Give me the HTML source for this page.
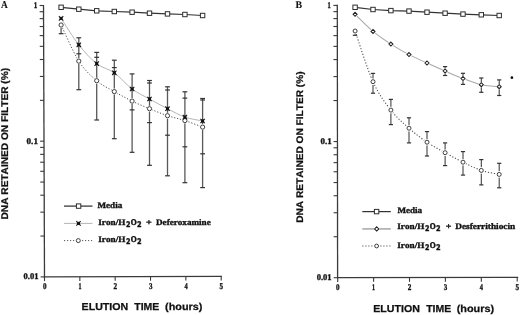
<!DOCTYPE html>
<html><head><meta charset="utf-8"><style>
html,body{margin:0;padding:0;background:#fff;}
body{width:520px;height:315px;overflow:hidden;}
svg{display:block;filter:blur(0.3px);}
text{font-kerning:none;text-rendering:geometricPrecision;}
</style></head><body>
<svg width="520" height="315" viewBox="0 0 520 315">
<rect width="520" height="315" fill="#fff"/>
<line x1="43.5" y1="4.9" x2="44.5" y2="277.5" stroke="#3a3a3a" stroke-width="1.3"/>
<line x1="39.6" y1="5.5" x2="43.5" y2="5.5" stroke="#3a3a3a" stroke-width="1.1"/>
<line x1="39.62" y1="11.71" x2="43.52" y2="11.71" stroke="#3a3a3a" stroke-width="1.1"/>
<line x1="39.65" y1="18.65" x2="43.55" y2="18.65" stroke="#3a3a3a" stroke-width="1.1"/>
<line x1="39.68" y1="26.52" x2="43.58" y2="26.52" stroke="#3a3a3a" stroke-width="1.1"/>
<line x1="39.71" y1="35.6" x2="43.61" y2="35.6" stroke="#3a3a3a" stroke-width="1.1"/>
<line x1="39.75" y1="46.35" x2="43.65" y2="46.35" stroke="#3a3a3a" stroke-width="1.1"/>
<line x1="39.8" y1="59.5" x2="43.7" y2="59.5" stroke="#3a3a3a" stroke-width="1.1"/>
<line x1="39.86" y1="76.45" x2="43.76" y2="76.45" stroke="#3a3a3a" stroke-width="1.1"/>
<line x1="39.95" y1="100.35" x2="43.85" y2="100.35" stroke="#3a3a3a" stroke-width="1.1"/>
<line x1="40.1" y1="141.2" x2="44" y2="141.2" stroke="#3a3a3a" stroke-width="1.1"/>
<line x1="40.12" y1="147.41" x2="44.02" y2="147.41" stroke="#3a3a3a" stroke-width="1.1"/>
<line x1="40.15" y1="154.35" x2="44.05" y2="154.35" stroke="#3a3a3a" stroke-width="1.1"/>
<line x1="40.18" y1="162.22" x2="44.08" y2="162.22" stroke="#3a3a3a" stroke-width="1.1"/>
<line x1="40.21" y1="171.3" x2="44.11" y2="171.3" stroke="#3a3a3a" stroke-width="1.1"/>
<line x1="40.25" y1="182.05" x2="44.15" y2="182.05" stroke="#3a3a3a" stroke-width="1.1"/>
<line x1="40.3" y1="195.2" x2="44.2" y2="195.2" stroke="#3a3a3a" stroke-width="1.1"/>
<line x1="40.36" y1="212.15" x2="44.26" y2="212.15" stroke="#3a3a3a" stroke-width="1.1"/>
<line x1="40.45" y1="236.05" x2="44.35" y2="236.05" stroke="#3a3a3a" stroke-width="1.1"/>
<line x1="40.6" y1="276.9" x2="44.5" y2="276.9" stroke="#3a3a3a" stroke-width="1.1"/>
<line x1="43.9" y1="276.9" x2="221.9" y2="276.3" stroke="#3a3a3a" stroke-width="1.3"/>
<line x1="44.5" y1="276.9" x2="44.5" y2="281.1" stroke="#3a3a3a" stroke-width="1.1"/>
<line x1="79.84" y1="276.78" x2="79.84" y2="280.98" stroke="#3a3a3a" stroke-width="1.1"/>
<line x1="115.18" y1="276.66" x2="115.18" y2="280.86" stroke="#3a3a3a" stroke-width="1.1"/>
<line x1="150.52" y1="276.54" x2="150.52" y2="280.74" stroke="#3a3a3a" stroke-width="1.1"/>
<line x1="185.86" y1="276.42" x2="185.86" y2="280.62" stroke="#3a3a3a" stroke-width="1.1"/>
<line x1="221.2" y1="276.3" x2="221.2" y2="280.5" stroke="#3a3a3a" stroke-width="1.1"/>
<line x1="61.1" y1="25" x2="61.1" y2="33.7" stroke="#585858" stroke-width="1.3"/>
<line x1="58.7" y1="33.7" x2="63.5" y2="33.7" stroke="#333" stroke-width="1.2"/>
<line x1="78.8" y1="37.8" x2="78.8" y2="89.7" stroke="#585858" stroke-width="1.3"/>
<line x1="76.4" y1="37.8" x2="81.2" y2="37.8" stroke="#333" stroke-width="1.2"/>
<line x1="76.4" y1="53.8" x2="81.2" y2="53.8" stroke="#333" stroke-width="1.2"/>
<line x1="76.4" y1="89.7" x2="81.2" y2="89.7" stroke="#333" stroke-width="1.2"/>
<line x1="96.7" y1="52.4" x2="96.7" y2="120" stroke="#585858" stroke-width="1.3"/>
<line x1="94.3" y1="52.4" x2="99.1" y2="52.4" stroke="#333" stroke-width="1.2"/>
<line x1="94.3" y1="57.3" x2="99.1" y2="57.3" stroke="#333" stroke-width="1.2"/>
<line x1="94.3" y1="120" x2="99.1" y2="120" stroke="#333" stroke-width="1.2"/>
<line x1="114.3" y1="60.2" x2="114.3" y2="138.7" stroke="#585858" stroke-width="1.3"/>
<line x1="111.9" y1="60.2" x2="116.7" y2="60.2" stroke="#333" stroke-width="1.2"/>
<line x1="111.9" y1="67.6" x2="116.7" y2="67.6" stroke="#333" stroke-width="1.2"/>
<line x1="111.9" y1="138.7" x2="116.7" y2="138.7" stroke="#333" stroke-width="1.2"/>
<line x1="132.1" y1="73.9" x2="132.1" y2="152.3" stroke="#585858" stroke-width="1.3"/>
<line x1="129.7" y1="73.9" x2="134.5" y2="73.9" stroke="#333" stroke-width="1.2"/>
<line x1="129.7" y1="109.9" x2="134.5" y2="109.9" stroke="#333" stroke-width="1.2"/>
<line x1="129.7" y1="152.3" x2="134.5" y2="152.3" stroke="#333" stroke-width="1.2"/>
<line x1="149.5" y1="80.5" x2="149.5" y2="165.3" stroke="#585858" stroke-width="1.3"/>
<line x1="147.1" y1="80.5" x2="151.9" y2="80.5" stroke="#333" stroke-width="1.2"/>
<line x1="147.1" y1="83" x2="151.9" y2="83" stroke="#333" stroke-width="1.2"/>
<line x1="147.1" y1="122.6" x2="151.9" y2="122.6" stroke="#333" stroke-width="1.2"/>
<line x1="147.1" y1="165.3" x2="151.9" y2="165.3" stroke="#333" stroke-width="1.2"/>
<line x1="167.5" y1="86.8" x2="167.5" y2="175.8" stroke="#585858" stroke-width="1.3"/>
<line x1="165.1" y1="86.8" x2="169.9" y2="86.8" stroke="#333" stroke-width="1.2"/>
<line x1="165.1" y1="90" x2="169.9" y2="90" stroke="#333" stroke-width="1.2"/>
<line x1="165.1" y1="135.2" x2="169.9" y2="135.2" stroke="#333" stroke-width="1.2"/>
<line x1="165.1" y1="175.8" x2="169.9" y2="175.8" stroke="#333" stroke-width="1.2"/>
<line x1="184.9" y1="91.8" x2="184.9" y2="182.7" stroke="#585858" stroke-width="1.3"/>
<line x1="182.5" y1="91.8" x2="187.3" y2="91.8" stroke="#333" stroke-width="1.2"/>
<line x1="182.5" y1="98.1" x2="187.3" y2="98.1" stroke="#333" stroke-width="1.2"/>
<line x1="182.5" y1="146.8" x2="187.3" y2="146.8" stroke="#333" stroke-width="1.2"/>
<line x1="182.5" y1="182.7" x2="187.3" y2="182.7" stroke="#333" stroke-width="1.2"/>
<line x1="202.6" y1="98.5" x2="202.6" y2="187.6" stroke="#585858" stroke-width="1.3"/>
<line x1="200.2" y1="98.5" x2="205" y2="98.5" stroke="#333" stroke-width="1.2"/>
<line x1="200.2" y1="100" x2="205" y2="100" stroke="#333" stroke-width="1.2"/>
<line x1="200.2" y1="153.8" x2="205" y2="153.8" stroke="#333" stroke-width="1.2"/>
<line x1="200.2" y1="187.6" x2="205" y2="187.6" stroke="#333" stroke-width="1.2"/>
<path d="M61.1 7.3 L78.8 9.2 L96.7 10.8 L114.3 11.5 L132.1 12.2 L149.5 13.2 L167.5 13.9 L184.9 14.5 L202.6 15.5" fill="none" stroke="#333" stroke-width="1.25"/>
<path d="M61.1 18.4 C64.05 22.8 72.87 37.27 78.8 44.8 C84.73 52.33 90.78 58.93 96.7 63.6 C102.62 68.27 108.4 68.57 114.3 72.8 C120.2 77.03 126.23 84.63 132.1 89 C137.97 93.37 143.6 95.72 149.5 99 C155.4 102.28 161.6 105.68 167.5 108.7 C173.4 111.72 179.05 115.05 184.9 117.1 C190.75 119.15 199.65 120.35 202.6 121" fill="none" stroke="#b0b0b0" stroke-width="0.95"/>
<path d="M61.1 25 C64.05 31.02 72.87 51.82 78.8 61.1 C84.73 70.38 90.78 75.62 96.7 80.7 C102.62 85.78 108.4 88.2 114.3 91.6 C120.2 95 126.23 98.25 132.1 101.1 C137.97 103.95 143.6 106.27 149.5 108.7 C155.4 111.13 161.6 113.72 167.5 115.7 C173.4 117.68 179.05 118.7 184.9 120.6 C190.75 122.5 199.65 126.02 202.6 127.1" fill="none" stroke="#505050" stroke-width="1.0" stroke-dasharray="1.2 1.8"/>
<rect x="58.9" y="5.1" width="4.4" height="4.4" fill="#fff" stroke="#2e2e2e" stroke-width="1.0"/>
<rect x="76.6" y="7" width="4.4" height="4.4" fill="#fff" stroke="#2e2e2e" stroke-width="1.0"/>
<rect x="94.5" y="8.6" width="4.4" height="4.4" fill="#fff" stroke="#2e2e2e" stroke-width="1.0"/>
<rect x="112.1" y="9.3" width="4.4" height="4.4" fill="#fff" stroke="#2e2e2e" stroke-width="1.0"/>
<rect x="129.9" y="10" width="4.4" height="4.4" fill="#fff" stroke="#2e2e2e" stroke-width="1.0"/>
<rect x="147.3" y="11" width="4.4" height="4.4" fill="#fff" stroke="#2e2e2e" stroke-width="1.0"/>
<rect x="165.3" y="11.7" width="4.4" height="4.4" fill="#fff" stroke="#2e2e2e" stroke-width="1.0"/>
<rect x="182.7" y="12.3" width="4.4" height="4.4" fill="#fff" stroke="#2e2e2e" stroke-width="1.0"/>
<rect x="200.4" y="13.3" width="4.4" height="4.4" fill="#fff" stroke="#2e2e2e" stroke-width="1.0"/>
<circle cx="61.1" cy="25" r="3" fill="#fff"/>
<circle cx="61.1" cy="25" r="2.1" fill="#fff" stroke="#2a2a2a" stroke-width="0.9"/>
<circle cx="78.8" cy="61.1" r="3" fill="#fff"/>
<circle cx="78.8" cy="61.1" r="2.1" fill="#fff" stroke="#2a2a2a" stroke-width="0.9"/>
<circle cx="96.7" cy="80.7" r="3" fill="#fff"/>
<circle cx="96.7" cy="80.7" r="2.1" fill="#fff" stroke="#2a2a2a" stroke-width="0.9"/>
<circle cx="114.3" cy="91.6" r="3" fill="#fff"/>
<circle cx="114.3" cy="91.6" r="2.1" fill="#fff" stroke="#2a2a2a" stroke-width="0.9"/>
<circle cx="132.1" cy="101.1" r="3" fill="#fff"/>
<circle cx="132.1" cy="101.1" r="2.1" fill="#fff" stroke="#2a2a2a" stroke-width="0.9"/>
<circle cx="149.5" cy="108.7" r="3" fill="#fff"/>
<circle cx="149.5" cy="108.7" r="2.1" fill="#fff" stroke="#2a2a2a" stroke-width="0.9"/>
<circle cx="167.5" cy="115.7" r="3" fill="#fff"/>
<circle cx="167.5" cy="115.7" r="2.1" fill="#fff" stroke="#2a2a2a" stroke-width="0.9"/>
<circle cx="184.9" cy="120.6" r="3" fill="#fff"/>
<circle cx="184.9" cy="120.6" r="2.1" fill="#fff" stroke="#2a2a2a" stroke-width="0.9"/>
<circle cx="202.6" cy="127.1" r="3" fill="#fff"/>
<circle cx="202.6" cy="127.1" r="2.1" fill="#fff" stroke="#2a2a2a" stroke-width="0.9"/>
<path d="M58.9 16.2L63.3 20.6M63.3 16.2L58.9 20.6" fill="none" stroke="#1a1a1a" stroke-width="1.1"/>
<rect x="59.6" y="16.9" width="3.0" height="3.0" fill="#111"/>
<path d="M76.6 42.6L81 47M81 42.6L76.6 47" fill="none" stroke="#1a1a1a" stroke-width="1.1"/>
<rect x="77.3" y="43.3" width="3.0" height="3.0" fill="#111"/>
<path d="M94.5 61.4L98.9 65.8M98.9 61.4L94.5 65.8" fill="none" stroke="#1a1a1a" stroke-width="1.1"/>
<rect x="95.2" y="62.1" width="3.0" height="3.0" fill="#111"/>
<path d="M112.1 70.6L116.5 75M116.5 70.6L112.1 75" fill="none" stroke="#1a1a1a" stroke-width="1.1"/>
<rect x="112.8" y="71.3" width="3.0" height="3.0" fill="#111"/>
<path d="M129.9 86.8L134.3 91.2M134.3 86.8L129.9 91.2" fill="none" stroke="#1a1a1a" stroke-width="1.1"/>
<rect x="130.6" y="87.5" width="3.0" height="3.0" fill="#111"/>
<path d="M147.3 96.8L151.7 101.2M151.7 96.8L147.3 101.2" fill="none" stroke="#1a1a1a" stroke-width="1.1"/>
<rect x="148" y="97.5" width="3.0" height="3.0" fill="#111"/>
<path d="M165.3 106.5L169.7 110.9M169.7 106.5L165.3 110.9" fill="none" stroke="#1a1a1a" stroke-width="1.1"/>
<rect x="166" y="107.2" width="3.0" height="3.0" fill="#111"/>
<path d="M182.7 114.9L187.1 119.3M187.1 114.9L182.7 119.3" fill="none" stroke="#1a1a1a" stroke-width="1.1"/>
<rect x="183.4" y="115.6" width="3.0" height="3.0" fill="#111"/>
<path d="M200.4 118.8L204.8 123.2M204.8 118.8L200.4 123.2" fill="none" stroke="#1a1a1a" stroke-width="1.1"/>
<rect x="201.1" y="119.5" width="3.0" height="3.0" fill="#111"/>
<path d="M64 206.1 L92.5 206.1" fill="none" stroke="#333" stroke-width="1.25"/>
<rect x="76.4" y="203.9" width="4.4" height="4.4" fill="#fff" stroke="#2e2e2e" stroke-width="1.0"/>
<path d="M64 223.4 L92.5 223.4" fill="none" stroke="#b0b0b0" stroke-width="0.95"/>
<path d="M76.3 221.2L80.7 225.6M80.7 221.2L76.3 225.6" fill="none" stroke="#1a1a1a" stroke-width="1.1"/>
<rect x="77" y="221.9" width="3.0" height="3.0" fill="#111"/>
<path d="M64 240.6 L92.7 240.6" fill="none" stroke="#555" stroke-width="1.0" stroke-dasharray="1.2 1.8"/>
<circle cx="78.3" cy="240.6" r="2.9" fill="#fff"/>
<circle cx="78.3" cy="240.6" r="2" fill="#fff" stroke="#2a2a2a" stroke-width="0.9"/>
<text x="97.44" y="207.9" textLength="24.79" lengthAdjust="spacingAndGlyphs" style="font-family:'Liberation Serif',serif;font-weight:bold;font-size:8.55px;fill:#111;stroke:#111;stroke-width:0.35px">Media</text>
<text x="98.29" y="224.8" textLength="27.06" lengthAdjust="spacingAndGlyphs" style="font-family:'Liberation Serif',serif;font-weight:bold;font-size:8.55px;fill:#111;stroke:#111;stroke-width:0.35px">Iron/H</text>
<text x="126.27" y="226.5" textLength="3.98" lengthAdjust="spacingAndGlyphs" style="font-family:'Liberation Serif',serif;font-weight:bold;font-size:8.4px;fill:#111;stroke:#111;stroke-width:0.55px">2</text>
<text x="130.73" y="224.8" textLength="5.95" lengthAdjust="spacingAndGlyphs" style="font-family:'Liberation Serif',serif;font-weight:bold;font-size:8.55px;fill:#111;stroke:#111;stroke-width:0.5px">O</text>
<text x="137.26" y="226.5" textLength="4.1" lengthAdjust="spacingAndGlyphs" style="font-family:'Liberation Serif',serif;font-weight:bold;font-size:8.4px;fill:#111;stroke:#111;stroke-width:0.55px">2</text>
<text x="146.07" y="224.8" textLength="5.76" lengthAdjust="spacingAndGlyphs" style="font-family:'Liberation Serif',serif;font-weight:bold;font-size:8.55px;fill:#111;stroke:#111;stroke-width:0.35px">+</text>
<text x="156.04" y="224.8" textLength="54.7" lengthAdjust="spacingAndGlyphs" style="font-family:'Liberation Serif',serif;font-weight:bold;font-size:8.55px;fill:#111;stroke:#111;stroke-width:0.35px">Deferoxamine</text>
<text x="98.29" y="241.9" textLength="27.06" lengthAdjust="spacingAndGlyphs" style="font-family:'Liberation Serif',serif;font-weight:bold;font-size:8.55px;fill:#111;stroke:#111;stroke-width:0.35px">Iron/H</text>
<text x="126.27" y="243.6" textLength="3.98" lengthAdjust="spacingAndGlyphs" style="font-family:'Liberation Serif',serif;font-weight:bold;font-size:8.4px;fill:#111;stroke:#111;stroke-width:0.55px">2</text>
<text x="130.73" y="241.9" textLength="5.95" lengthAdjust="spacingAndGlyphs" style="font-family:'Liberation Serif',serif;font-weight:bold;font-size:8.55px;fill:#111;stroke:#111;stroke-width:0.5px">O</text>
<text x="137.26" y="243.6" textLength="4.1" lengthAdjust="spacingAndGlyphs" style="font-family:'Liberation Serif',serif;font-weight:bold;font-size:8.4px;fill:#111;stroke:#111;stroke-width:0.55px">2</text>
<text x="33.63" y="7.7" textLength="3.53" lengthAdjust="spacingAndGlyphs" style="font-family:'Liberation Serif',serif;font-weight:bold;font-size:8.86px;fill:#111;stroke:#111;stroke-width:0.35px">1</text>
<text x="26.55" y="143.7" textLength="11.42" lengthAdjust="spacingAndGlyphs" style="font-family:'Liberation Serif',serif;font-weight:bold;font-size:8.86px;fill:#111;stroke:#111;stroke-width:0.35px">0.1</text>
<text x="23.47" y="279.2" textLength="14.97" lengthAdjust="spacingAndGlyphs" style="font-family:'Liberation Serif',serif;font-weight:bold;font-size:8.86px;fill:#111;stroke:#111;stroke-width:0.35px">0.01</text>
<text x="42.93" y="289" textLength="3.54" lengthAdjust="spacingAndGlyphs" style="font-family:'Liberation Serif',serif;font-weight:bold;font-size:8.86px;fill:#111;stroke:#111;stroke-width:0.35px">0</text>
<text x="78.46" y="289" textLength="2.99" lengthAdjust="spacingAndGlyphs" style="font-family:'Liberation Serif',serif;font-weight:bold;font-size:8.86px;fill:#111;stroke:#111;stroke-width:0.35px">1</text>
<text x="113.58" y="289" textLength="3.61" lengthAdjust="spacingAndGlyphs" style="font-family:'Liberation Serif',serif;font-weight:bold;font-size:8.86px;fill:#111;stroke:#111;stroke-width:0.35px">2</text>
<text x="148.96" y="289" textLength="3.5" lengthAdjust="spacingAndGlyphs" style="font-family:'Liberation Serif',serif;font-weight:bold;font-size:8.86px;fill:#111;stroke:#111;stroke-width:0.35px">3</text>
<text x="184.47" y="289" textLength="3.21" lengthAdjust="spacingAndGlyphs" style="font-family:'Liberation Serif',serif;font-weight:bold;font-size:8.86px;fill:#111;stroke:#111;stroke-width:0.35px">4</text>
<text x="219.62" y="289" textLength="3.54" lengthAdjust="spacingAndGlyphs" style="font-family:'Liberation Serif',serif;font-weight:bold;font-size:8.86px;fill:#111;stroke:#111;stroke-width:0.35px">5</text>
<text x="1.11" y="8.3" textLength="6.76" lengthAdjust="spacingAndGlyphs" style="font-family:'Liberation Serif',serif;font-weight:bold;font-size:10.54px;fill:#111;stroke:#111;stroke-width:0.1px">A</text>
<text x="81.59" y="309.8" textLength="46.63" lengthAdjust="spacingAndGlyphs" style="font-family:'Liberation Sans',sans-serif;font-weight:bold;font-size:10.03px;fill:#111;stroke:#111;stroke-width:0.25px">ELUTION</text>
<text x="134.28" y="309.8" textLength="25.03" lengthAdjust="spacingAndGlyphs" style="font-family:'Liberation Sans',sans-serif;font-weight:bold;font-size:10.03px;fill:#111;stroke:#111;stroke-width:0.25px">TIME</text>
<text x="165.06" y="309.8" textLength="37.38" lengthAdjust="spacingAndGlyphs" style="font-family:'Liberation Sans',sans-serif;font-weight:bold;font-size:10.03px;fill:#111;stroke:#111;stroke-width:0.25px">(hours)</text>
<text transform="translate(8.1 218.8) rotate(-90)" x="-0.68" y="0" textLength="151.58" lengthAdjust="spacingAndGlyphs" style="font-family:'Liberation Sans',sans-serif;font-weight:bold;font-size:9.74px;fill:#111;stroke:#111;stroke-width:0.25px">DNA RETAINED ON FILTER (%)</text>
<line x1="337.3" y1="4.8" x2="337.6" y2="278.3" stroke="#3a3a3a" stroke-width="1.3"/>
<line x1="333.4" y1="5.4" x2="337.3" y2="5.4" stroke="#3a3a3a" stroke-width="1.1"/>
<line x1="333.41" y1="11.63" x2="337.31" y2="11.63" stroke="#3a3a3a" stroke-width="1.1"/>
<line x1="333.41" y1="18.59" x2="337.31" y2="18.59" stroke="#3a3a3a" stroke-width="1.1"/>
<line x1="333.42" y1="26.49" x2="337.32" y2="26.49" stroke="#3a3a3a" stroke-width="1.1"/>
<line x1="333.43" y1="35.6" x2="337.33" y2="35.6" stroke="#3a3a3a" stroke-width="1.1"/>
<line x1="333.45" y1="46.39" x2="337.35" y2="46.39" stroke="#3a3a3a" stroke-width="1.1"/>
<line x1="333.46" y1="59.58" x2="337.36" y2="59.58" stroke="#3a3a3a" stroke-width="1.1"/>
<line x1="333.48" y1="76.59" x2="337.38" y2="76.59" stroke="#3a3a3a" stroke-width="1.1"/>
<line x1="333.5" y1="100.56" x2="337.4" y2="100.56" stroke="#3a3a3a" stroke-width="1.1"/>
<line x1="333.55" y1="141.55" x2="337.45" y2="141.55" stroke="#3a3a3a" stroke-width="1.1"/>
<line x1="333.56" y1="147.78" x2="337.46" y2="147.78" stroke="#3a3a3a" stroke-width="1.1"/>
<line x1="333.56" y1="154.74" x2="337.46" y2="154.74" stroke="#3a3a3a" stroke-width="1.1"/>
<line x1="333.57" y1="162.64" x2="337.47" y2="162.64" stroke="#3a3a3a" stroke-width="1.1"/>
<line x1="333.58" y1="171.75" x2="337.48" y2="171.75" stroke="#3a3a3a" stroke-width="1.1"/>
<line x1="333.6" y1="182.54" x2="337.5" y2="182.54" stroke="#3a3a3a" stroke-width="1.1"/>
<line x1="333.61" y1="195.73" x2="337.51" y2="195.73" stroke="#3a3a3a" stroke-width="1.1"/>
<line x1="333.63" y1="212.74" x2="337.53" y2="212.74" stroke="#3a3a3a" stroke-width="1.1"/>
<line x1="333.65" y1="236.71" x2="337.55" y2="236.71" stroke="#3a3a3a" stroke-width="1.1"/>
<line x1="333.7" y1="277.7" x2="337.6" y2="277.7" stroke="#3a3a3a" stroke-width="1.1"/>
<line x1="337" y1="277.7" x2="518.2" y2="277.4" stroke="#3a3a3a" stroke-width="1.3"/>
<line x1="337.7" y1="277.7" x2="337.7" y2="281.9" stroke="#3a3a3a" stroke-width="1.1"/>
<line x1="373.6" y1="277.64" x2="373.6" y2="281.84" stroke="#3a3a3a" stroke-width="1.1"/>
<line x1="409.5" y1="277.58" x2="409.5" y2="281.78" stroke="#3a3a3a" stroke-width="1.1"/>
<line x1="445.4" y1="277.52" x2="445.4" y2="281.72" stroke="#3a3a3a" stroke-width="1.1"/>
<line x1="481.3" y1="277.46" x2="481.3" y2="281.66" stroke="#3a3a3a" stroke-width="1.1"/>
<line x1="517.2" y1="277.4" x2="517.2" y2="281.6" stroke="#3a3a3a" stroke-width="1.1"/>
<line x1="355.1" y1="31" x2="355.1" y2="35.3" stroke="#585858" stroke-width="1.3"/>
<line x1="352.8" y1="35.3" x2="357.2" y2="35.3" stroke="#333" stroke-width="1.2"/>
<line x1="373" y1="73.4" x2="373" y2="93.2" stroke="#3a3a3a" stroke-width="1.05"/>
<line x1="370.9" y1="73.4" x2="375.1" y2="73.4" stroke="#333" stroke-width="1.2"/>
<line x1="370.9" y1="93.2" x2="375.1" y2="93.2" stroke="#333" stroke-width="1.2"/>
<line x1="390.9" y1="99.4" x2="390.9" y2="124.6" stroke="#3a3a3a" stroke-width="1.05"/>
<line x1="388.8" y1="99.4" x2="393" y2="99.4" stroke="#333" stroke-width="1.2"/>
<line x1="388.8" y1="124.6" x2="393" y2="124.6" stroke="#333" stroke-width="1.2"/>
<line x1="409" y1="117.8" x2="409" y2="142.9" stroke="#3a3a3a" stroke-width="1.05"/>
<line x1="406.9" y1="117.8" x2="411.1" y2="117.8" stroke="#333" stroke-width="1.2"/>
<line x1="406.9" y1="142.9" x2="411.1" y2="142.9" stroke="#333" stroke-width="1.2"/>
<line x1="427" y1="131.6" x2="427" y2="156" stroke="#3a3a3a" stroke-width="1.05"/>
<line x1="424.9" y1="131.6" x2="429.1" y2="131.6" stroke="#333" stroke-width="1.2"/>
<line x1="424.9" y1="156" x2="429.1" y2="156" stroke="#333" stroke-width="1.2"/>
<line x1="445.1" y1="142.9" x2="445.1" y2="165.6" stroke="#3a3a3a" stroke-width="1.05"/>
<line x1="443" y1="142.9" x2="447.2" y2="142.9" stroke="#333" stroke-width="1.2"/>
<line x1="443" y1="165.6" x2="447.2" y2="165.6" stroke="#333" stroke-width="1.2"/>
<line x1="445.1" y1="66.6" x2="445.1" y2="75.5" stroke="#3a3a3a" stroke-width="1.05"/>
<line x1="443" y1="66.6" x2="447.2" y2="66.6" stroke="#333" stroke-width="1.2"/>
<line x1="443" y1="75.5" x2="447.2" y2="75.5" stroke="#333" stroke-width="1.2"/>
<line x1="463" y1="151.6" x2="463" y2="175.1" stroke="#3a3a3a" stroke-width="1.05"/>
<line x1="460.9" y1="151.6" x2="465.1" y2="151.6" stroke="#333" stroke-width="1.2"/>
<line x1="460.9" y1="175.1" x2="465.1" y2="175.1" stroke="#333" stroke-width="1.2"/>
<line x1="463" y1="73.3" x2="463" y2="84.4" stroke="#3a3a3a" stroke-width="1.05"/>
<line x1="460.9" y1="73.3" x2="465.1" y2="73.3" stroke="#333" stroke-width="1.2"/>
<line x1="460.9" y1="84.4" x2="465.1" y2="84.4" stroke="#333" stroke-width="1.2"/>
<line x1="481.3" y1="159.6" x2="481.3" y2="184.9" stroke="#3a3a3a" stroke-width="1.05"/>
<line x1="479.2" y1="159.6" x2="483.4" y2="159.6" stroke="#333" stroke-width="1.2"/>
<line x1="479.2" y1="184.9" x2="483.4" y2="184.9" stroke="#333" stroke-width="1.2"/>
<line x1="481.3" y1="78" x2="481.3" y2="92.3" stroke="#3a3a3a" stroke-width="1.05"/>
<line x1="479.2" y1="78" x2="483.4" y2="78" stroke="#333" stroke-width="1.2"/>
<line x1="479.2" y1="92.3" x2="483.4" y2="92.3" stroke="#333" stroke-width="1.2"/>
<line x1="499.2" y1="163.3" x2="499.2" y2="187.8" stroke="#3a3a3a" stroke-width="1.05"/>
<line x1="497.1" y1="163.3" x2="501.3" y2="163.3" stroke="#333" stroke-width="1.2"/>
<line x1="497.1" y1="187.8" x2="501.3" y2="187.8" stroke="#333" stroke-width="1.2"/>
<line x1="499.2" y1="79.9" x2="499.2" y2="95.5" stroke="#3a3a3a" stroke-width="1.05"/>
<line x1="497.1" y1="79.9" x2="501.3" y2="79.9" stroke="#333" stroke-width="1.2"/>
<line x1="497.1" y1="95.5" x2="501.3" y2="95.5" stroke="#333" stroke-width="1.2"/>
<path d="M355.1 7.3 L373 9.5 L390.9 10.6 L409 11.1 L427 12.2 L445.1 13.2 L463 14.1 L481.3 14.8 L499.2 15.5" fill="none" stroke="#333" stroke-width="1.25"/>
<path d="M355.1 14.3 C358.08 17.15 367.03 26.43 373 31.4 C378.97 36.37 384.9 40.23 390.9 44.1 C396.9 47.97 402.98 51.45 409 54.6 C415.02 57.75 420.98 60.27 427 63 C433.02 65.73 439.1 68.42 445.1 71 C451.1 73.58 456.97 76.22 463 78.5 C469.03 80.78 475.27 83.33 481.3 84.7 C487.33 86.07 496.22 86.37 499.2 86.7" fill="none" stroke="#a8a8a8" stroke-width="1.05"/>
<path d="M355.1 31 C358.08 39.45 367.03 68.52 373 81.7 C378.97 94.88 384.9 102.35 390.9 110.1 C396.9 117.85 402.98 122.85 409 128.2 C415.02 133.55 420.98 138.12 427 142.2 C433.02 146.28 439.1 149.37 445.1 152.7 C451.1 156.03 456.97 159.25 463 162.2 C469.03 165.15 475.27 168.37 481.3 170.4 C487.33 172.43 496.22 173.73 499.2 174.4" fill="none" stroke="#484848" stroke-width="1.05" stroke-dasharray="1.2 1.8"/>
<rect x="352.9" y="5.1" width="4.4" height="4.4" fill="#fff" stroke="#2e2e2e" stroke-width="1.0"/>
<rect x="370.8" y="7.3" width="4.4" height="4.4" fill="#fff" stroke="#2e2e2e" stroke-width="1.0"/>
<rect x="388.7" y="8.4" width="4.4" height="4.4" fill="#fff" stroke="#2e2e2e" stroke-width="1.0"/>
<rect x="406.8" y="8.9" width="4.4" height="4.4" fill="#fff" stroke="#2e2e2e" stroke-width="1.0"/>
<rect x="424.8" y="10" width="4.4" height="4.4" fill="#fff" stroke="#2e2e2e" stroke-width="1.0"/>
<rect x="442.9" y="11" width="4.4" height="4.4" fill="#fff" stroke="#2e2e2e" stroke-width="1.0"/>
<rect x="460.8" y="11.9" width="4.4" height="4.4" fill="#fff" stroke="#2e2e2e" stroke-width="1.0"/>
<rect x="479.1" y="12.6" width="4.4" height="4.4" fill="#fff" stroke="#2e2e2e" stroke-width="1.0"/>
<rect x="497" y="13.3" width="4.4" height="4.4" fill="#fff" stroke="#2e2e2e" stroke-width="1.0"/>
<circle cx="355.1" cy="31" r="3.3" fill="#fff"/>
<circle cx="355.1" cy="31" r="2" fill="#fff" stroke="#2a2a2a" stroke-width="0.9"/>
<circle cx="373" cy="81.7" r="3.3" fill="#fff"/>
<circle cx="373" cy="81.7" r="2" fill="#fff" stroke="#2a2a2a" stroke-width="0.9"/>
<circle cx="390.9" cy="110.1" r="3.3" fill="#fff"/>
<circle cx="390.9" cy="110.1" r="2" fill="#fff" stroke="#2a2a2a" stroke-width="0.9"/>
<circle cx="409" cy="128.2" r="3.3" fill="#fff"/>
<circle cx="409" cy="128.2" r="2" fill="#fff" stroke="#2a2a2a" stroke-width="0.9"/>
<circle cx="427" cy="142.2" r="3.3" fill="#fff"/>
<circle cx="427" cy="142.2" r="2" fill="#fff" stroke="#2a2a2a" stroke-width="0.9"/>
<circle cx="445.1" cy="152.7" r="3.3" fill="#fff"/>
<circle cx="445.1" cy="152.7" r="2" fill="#fff" stroke="#2a2a2a" stroke-width="0.9"/>
<circle cx="463" cy="162.2" r="3.3" fill="#fff"/>
<circle cx="463" cy="162.2" r="2" fill="#fff" stroke="#2a2a2a" stroke-width="0.9"/>
<circle cx="481.3" cy="170.4" r="3.3" fill="#fff"/>
<circle cx="481.3" cy="170.4" r="2" fill="#fff" stroke="#2a2a2a" stroke-width="0.9"/>
<circle cx="499.2" cy="174.4" r="3.3" fill="#fff"/>
<circle cx="499.2" cy="174.4" r="2" fill="#fff" stroke="#2a2a2a" stroke-width="0.9"/>
<circle cx="355.1" cy="14.3" r="2.7" fill="#fff"/>
<path d="M355.1 12.3L357.1 14.3L355.1 16.3L353.1 14.3Z" fill="#fff" stroke="#222" stroke-width="1.05"/>
<circle cx="373" cy="31.4" r="2.7" fill="#fff"/>
<path d="M373 29.4L375 31.4L373 33.4L371 31.4Z" fill="#fff" stroke="#222" stroke-width="1.05"/>
<circle cx="390.9" cy="44.1" r="2.7" fill="#fff"/>
<path d="M390.9 42.1L392.9 44.1L390.9 46.1L388.9 44.1Z" fill="#fff" stroke="#222" stroke-width="1.05"/>
<circle cx="409" cy="54.6" r="2.7" fill="#fff"/>
<path d="M409 52.6L411 54.6L409 56.6L407 54.6Z" fill="#fff" stroke="#222" stroke-width="1.05"/>
<circle cx="427" cy="63" r="2.7" fill="#fff"/>
<path d="M427 61L429 63L427 65L425 63Z" fill="#fff" stroke="#222" stroke-width="1.05"/>
<circle cx="445.1" cy="71" r="2.7" fill="#fff"/>
<path d="M445.1 69L447.1 71L445.1 73L443.1 71Z" fill="#fff" stroke="#222" stroke-width="1.05"/>
<circle cx="463" cy="78.5" r="2.7" fill="#fff"/>
<path d="M463 76.5L465 78.5L463 80.5L461 78.5Z" fill="#fff" stroke="#222" stroke-width="1.05"/>
<circle cx="481.3" cy="84.7" r="2.7" fill="#fff"/>
<path d="M481.3 82.7L483.3 84.7L481.3 86.7L479.3 84.7Z" fill="#fff" stroke="#222" stroke-width="1.05"/>
<circle cx="499.2" cy="86.7" r="2.7" fill="#fff"/>
<path d="M499.2 84.7L501.2 86.7L499.2 88.7L497.2 86.7Z" fill="#fff" stroke="#222" stroke-width="1.05"/>
<circle cx="511.9" cy="77.7" r="1.35" fill="#111"/>
<path d="M362.3 211.6 L390.8 211.6" fill="none" stroke="#333" stroke-width="1.25"/>
<rect x="374.4" y="209.4" width="4.4" height="4.4" fill="#fff" stroke="#2e2e2e" stroke-width="1.0"/>
<path d="M362.3 228.9 L390.8 228.9" fill="none" stroke="#b0b0b0" stroke-width="1.7"/>
<circle cx="376.7" cy="228.9" r="2.8" fill="#fff"/>
<path d="M376.7 226.8L378.8 228.9L376.7 231L374.6 228.9Z" fill="#fff" stroke="#222" stroke-width="1.05"/>
<path d="M362.3 246 L390.8 246" fill="none" stroke="#555" stroke-width="1.0" stroke-dasharray="1.2 1.8"/>
<circle cx="376.6" cy="246" r="2.8" fill="#fff"/>
<circle cx="376.6" cy="246" r="1.9" fill="#fff" stroke="#2a2a2a" stroke-width="0.9"/>
<text x="397.44" y="212.9" textLength="24.69" lengthAdjust="spacingAndGlyphs" style="font-family:'Liberation Serif',serif;font-weight:bold;font-size:8.55px;fill:#111;stroke:#111;stroke-width:0.35px">Media</text>
<text x="397.29" y="228.9" textLength="27.06" lengthAdjust="spacingAndGlyphs" style="font-family:'Liberation Serif',serif;font-weight:bold;font-size:8.55px;fill:#111;stroke:#111;stroke-width:0.35px">Iron/H</text>
<text x="425.27" y="230.6" textLength="3.98" lengthAdjust="spacingAndGlyphs" style="font-family:'Liberation Serif',serif;font-weight:bold;font-size:8.4px;fill:#111;stroke:#111;stroke-width:0.55px">2</text>
<text x="429.73" y="228.9" textLength="5.95" lengthAdjust="spacingAndGlyphs" style="font-family:'Liberation Serif',serif;font-weight:bold;font-size:8.55px;fill:#111;stroke:#111;stroke-width:0.5px">O</text>
<text x="436.26" y="230.6" textLength="4.1" lengthAdjust="spacingAndGlyphs" style="font-family:'Liberation Serif',serif;font-weight:bold;font-size:8.4px;fill:#111;stroke:#111;stroke-width:0.55px">2</text>
<text x="445.68" y="228.9" textLength="5.64" lengthAdjust="spacingAndGlyphs" style="font-family:'Liberation Serif',serif;font-weight:bold;font-size:8.55px;fill:#111;stroke:#111;stroke-width:0.35px">+</text>
<text x="455.24" y="228.9" textLength="60" lengthAdjust="spacingAndGlyphs" style="font-family:'Liberation Serif',serif;font-weight:bold;font-size:8.55px;fill:#111;stroke:#111;stroke-width:0.35px">Desferrithiocin</text>
<text x="397.29" y="247.9" textLength="27.06" lengthAdjust="spacingAndGlyphs" style="font-family:'Liberation Serif',serif;font-weight:bold;font-size:8.55px;fill:#111;stroke:#111;stroke-width:0.35px">Iron/H</text>
<text x="425.27" y="249.6" textLength="3.98" lengthAdjust="spacingAndGlyphs" style="font-family:'Liberation Serif',serif;font-weight:bold;font-size:8.4px;fill:#111;stroke:#111;stroke-width:0.55px">2</text>
<text x="429.73" y="247.9" textLength="5.95" lengthAdjust="spacingAndGlyphs" style="font-family:'Liberation Serif',serif;font-weight:bold;font-size:8.55px;fill:#111;stroke:#111;stroke-width:0.5px">O</text>
<text x="436.26" y="249.6" textLength="4.1" lengthAdjust="spacingAndGlyphs" style="font-family:'Liberation Serif',serif;font-weight:bold;font-size:8.4px;fill:#111;stroke:#111;stroke-width:0.55px">2</text>
<text x="327.58" y="7.8" textLength="3.26" lengthAdjust="spacingAndGlyphs" style="font-family:'Liberation Serif',serif;font-weight:bold;font-size:8.86px;fill:#111;stroke:#111;stroke-width:0.35px">1</text>
<text x="320.46" y="143.8" textLength="11.21" lengthAdjust="spacingAndGlyphs" style="font-family:'Liberation Serif',serif;font-weight:bold;font-size:8.86px;fill:#111;stroke:#111;stroke-width:0.35px">0.1</text>
<text x="316.67" y="279.8" textLength="14.97" lengthAdjust="spacingAndGlyphs" style="font-family:'Liberation Serif',serif;font-weight:bold;font-size:8.86px;fill:#111;stroke:#111;stroke-width:0.35px">0.01</text>
<text x="336.03" y="290.4" textLength="3.54" lengthAdjust="spacingAndGlyphs" style="font-family:'Liberation Serif',serif;font-weight:bold;font-size:8.86px;fill:#111;stroke:#111;stroke-width:0.35px">0</text>
<text x="372.12" y="290.4" textLength="2.99" lengthAdjust="spacingAndGlyphs" style="font-family:'Liberation Serif',serif;font-weight:bold;font-size:8.86px;fill:#111;stroke:#111;stroke-width:0.35px">1</text>
<text x="407.8" y="290.4" textLength="3.61" lengthAdjust="spacingAndGlyphs" style="font-family:'Liberation Serif',serif;font-weight:bold;font-size:8.86px;fill:#111;stroke:#111;stroke-width:0.35px">2</text>
<text x="443.74" y="290.4" textLength="3.5" lengthAdjust="spacingAndGlyphs" style="font-family:'Liberation Serif',serif;font-weight:bold;font-size:8.86px;fill:#111;stroke:#111;stroke-width:0.35px">3</text>
<text x="479.81" y="290.4" textLength="3.21" lengthAdjust="spacingAndGlyphs" style="font-family:'Liberation Serif',serif;font-weight:bold;font-size:8.86px;fill:#111;stroke:#111;stroke-width:0.35px">4</text>
<text x="515.52" y="290.4" textLength="3.54" lengthAdjust="spacingAndGlyphs" style="font-family:'Liberation Serif',serif;font-weight:bold;font-size:8.86px;fill:#111;stroke:#111;stroke-width:0.35px">5</text>
<text x="295.53" y="8.1" textLength="6.64" lengthAdjust="spacingAndGlyphs" style="font-family:'Liberation Serif',serif;font-weight:bold;font-size:10.23px;fill:#111;stroke:#111;stroke-width:0.1px">B</text>
<text x="373.29" y="312.1" textLength="46.63" lengthAdjust="spacingAndGlyphs" style="font-family:'Liberation Sans',sans-serif;font-weight:bold;font-size:10.03px;fill:#111;stroke:#111;stroke-width:0.25px">ELUTION</text>
<text x="426.18" y="312.1" textLength="25.03" lengthAdjust="spacingAndGlyphs" style="font-family:'Liberation Sans',sans-serif;font-weight:bold;font-size:10.03px;fill:#111;stroke:#111;stroke-width:0.25px">TIME</text>
<text x="456.66" y="312.1" textLength="37.48" lengthAdjust="spacingAndGlyphs" style="font-family:'Liberation Sans',sans-serif;font-weight:bold;font-size:10.03px;fill:#111;stroke:#111;stroke-width:0.25px">(hours)</text>
<text transform="translate(303.3 222.1) rotate(-90)" x="-0.68" y="0" textLength="151.38" lengthAdjust="spacingAndGlyphs" style="font-family:'Liberation Sans',sans-serif;font-weight:bold;font-size:9.59px;fill:#111;stroke:#111;stroke-width:0.25px">DNA RETAINED ON FILTER (%)</text>
</svg>
</body></html>
